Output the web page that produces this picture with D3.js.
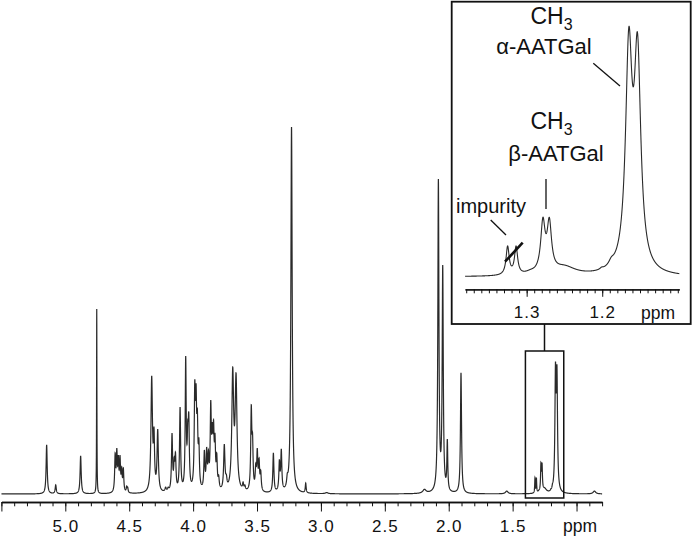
<!DOCTYPE html>
<html><head><meta charset="utf-8">
<script src="https://cdn.jsdelivr.net/npm/d3@7"></script>
<style>html,body{margin:0;padding:0;background:#fff;} svg{display:block;font-family:"Liberation Sans",Arial,Helvetica,sans-serif;}</style>
</head><body><svg id="c" width="693" height="540"></svg>
<script>
const peakPpm = [5.146,5.075,4.880,4.754,
 4.610,4.597,4.585,4.572,4.559,4.546,4.520,4.512,
 4.324,4.306,4.277,4.215,4.195,4.165,4.148,4.138,4.102,4.058,4.042,4.034,
 3.987,3.977,3.967,3.955,3.912,3.894,3.880,3.862,3.850,3.840,3.829,3.815,3.800,
 3.756,3.740,3.690,3.664,3.609,3.595,
 3.545,3.535,3.510,3.498,3.484,3.471,3.372,3.325,3.310,3.263,3.230,3.119,2.955,
 2.190,2.081,2.047,2.011,1.904,1.546,0.860,
 1.3252,1.3140,1.2785,1.2700,1.295,1.250,1.2008,1.188,1.1648,1.1533];
const peakApex = [13.4,2.5,10.4,50.4,
 11.2,12.5,10.6,10.6,7.4,7.1,2.2,1.9,
 32.2,18.3,17.7,1.9,1.9,16.6,10.1,11.4,23.7,37.6,20.2,22.3,
 31.1,30.2,23.4,15.3,12.0,12.8,12.0,25.6,19.6,20.2,16.6,11.2,5.2,
 13.6,5.4,34.6,33.0,3.3,2.5,
 24.3,16.6,8.4,12.5,9.8,6.5,11.2,9.3,12.3,5.7,100,3.0,0.4,
 1.3,85.8,62.4,15.0,33.0,0.8,0.8,
 4.47,4.47,8.6,8.6,1.1,1.73,1.44,2.9,36.0,35.2];
const peakWidth = [0.005,0.005,0.005,0.0015,
 0.0045,0.0045,0.0045,0.0045,0.0045,0.0045,0.004,0.004,
 0.007,0.005,0.006,0.006,0.006,0.005,0.005,0.005,0.005,0.0045,0.005,0.005,
 0.005,0.005,0.005,0.005,0.005,0.005,0.005,0.005,0.005,0.005,0.005,0.005,0.005,
 0.006,0.006,0.0085,0.0085,0.005,0.005,
 0.005,0.005,0.005,0.005,0.005,0.005,0.005,0.005,0.005,0.006,0.006,0.004,0.012,
 0.015,0.005,0.005,0.004,0.005,0.012,0.012,
 0.0025,0.0025,0.0035,0.0035,0.008,0.018,0.0025,0.004,0.0052,0.0052];

const mainMajorTicks = [5.5,5.0,4.5,4.0,3.5,3.0,2.5,2.0,1.5,1.0];
const mainTickLabels = ["","5.0","4.5","4.0","3.5","3.0","2.5","2.0","1.5",""];
const insetMajorTicks = [1.3,1.2];
const insetTickLabels = ["1.3","1.2"];
const unitLabel = "ppm";

// ---- line amplitudes so that the summed Lorentzians reach the observed apex heights ----
const N = peakPpm.length;
const L = (x,i) => { const u = (x - peakPpm[i]) / peakWidth[i]; return 1/(1+u*u); };
const amp = peakApex.slice();
for (let it = 0; it < 400; it++) {
  for (let i = 0; i < N; i++) {
    let m = 0;
    for (let j = 0; j < N; j++) m += amp[j]*L(peakPpm[i], j);
    amp[i] *= peakApex[i]/m;
  }
}
function spectrum(lo, hi, step){
  const xs = d3.range(lo, hi, step);
  peakPpm.forEach(p => { if (p >= lo && p <= hi) xs.push(p); });
  xs.sort((a,b)=>a-b);
  return xs.map(x => { let s = 0; for (let i = 0; i < N; i++) s += amp[i]*L(x,i); return [x, s]; });
}

const svg = d3.select("#c");
const ink = "#111";

// ---- main spectrum ----
const xMain = d3.scaleLinear().domain([5.5, 0.8]).range([1.4, 602.1]);
const yMain = d3.scaleLinear().domain([0, 100]).range([494, 127]);
const mainData = spectrum(0.8, 5.5, 0.0005);
svg.append("path").datum(mainData)
  .attr("fill","none").attr("stroke","#2a2a2a").attr("stroke-width",1.2)
  .attr("d", d3.line().x(d=>xMain(d[0])).y(d=>yMain(d[1])));

const axisY = 502;
const gMinor = svg.append("g").attr("transform",`translate(0,${axisY})`)
  .call(d3.axisBottom(xMain).tickValues(d3.range(8,56).map(i=>i/10)).tickSize(4.3).tickSizeOuter(0).tickFormat(""));
const gMajor = svg.append("g").attr("transform",`translate(0,${axisY})`)
  .call(d3.axisBottom(xMain).tickValues(mainMajorTicks).tickSize(9.5).tickSizeOuter(0)
    .tickFormat((d,i)=>mainTickLabels[i]));
[gMinor,gMajor].forEach(g=>{
  g.select(".domain").attr("stroke",ink).attr("stroke-width",1.4);
  g.selectAll(".tick line").attr("stroke",ink).attr("stroke-width",1);
});
gMajor.selectAll(".tick text").attr("y",30).attr("dy",0)
  .attr("font-size",17).attr("letter-spacing","1px").attr("fill",ink)
  .attr("font-family",'"Liberation Sans",Arial,sans-serif');
svg.append("text").attr("x",580).attr("y",532).attr("text-anchor","middle")
  .attr("font-size",17.5).attr("fill",ink).text(unitLabel);

// zoom box and connector
const boxLo = 1.40, boxHi = 1.10;
svg.append("rect").attr("x",xMain(boxLo)).attr("y",351)
  .attr("width",xMain(boxHi)-xMain(boxLo)).attr("height",147)
  .attr("fill","none").attr("stroke",ink).attr("stroke-width",1.5);
svg.append("line").attr("x1",544.5).attr("x2",544.5).attr("y1",324).attr("y2",351)
  .attr("stroke",ink).attr("stroke-width",1.5);

// ---- inset ----
svg.append("rect").attr("x",451.7).attr("y",1.7).attr("width",239).attr("height",322.3)
  .attr("fill","#fff").attr("stroke",ink).attr("stroke-width",1.8);
const xIns = d3.scaleLinear().domain([1.3816, 1.098]).range([465, 679.3]);
const yIns = d3.scaleLinear().domain([0, 100]).range([277, 277-694]);
const insData = spectrum(1.098, 1.3816, 0.0001);
svg.append("path").datum(insData)
  .attr("fill","none").attr("stroke","#2a2a2a").attr("stroke-width",1.1)
  .attr("d", d3.line().x(d=>xIns(d[0])).y(d=>yIns(d[1])));

const insAxisY = 289.3;
const iMinor = svg.append("g").attr("transform",`translate(0,${insAxisY})`)
  .call(d3.axisBottom(xIns).tickValues(d3.range(110,139).map(i=>i/100)).tickSize(4).tickSizeOuter(0).tickFormat(""));
const iMajor = svg.append("g").attr("transform",`translate(0,${insAxisY})`)
  .call(d3.axisBottom(xIns).tickValues(insetMajorTicks).tickSize(7.5).tickSizeOuter(0)
    .tickFormat((d,i)=>insetTickLabels[i]));
[iMinor,iMajor].forEach(g=>{
  g.select(".domain").attr("stroke",ink).attr("stroke-width",1.2);
  g.selectAll(".tick line").attr("stroke",ink).attr("stroke-width",1);
});
iMajor.selectAll(".tick text").attr("y",29.2).attr("dy",0)
  .attr("font-size",17).attr("letter-spacing","1px").attr("fill",ink)
  .attr("font-family",'"Liberation Sans",Arial,sans-serif');
svg.append("text").attr("x",658).attr("y",318.5).attr("text-anchor","middle")
  .attr("font-size",17.5).attr("fill",ink).text(unitLabel);

// annotations
function ch3(x,y){
  const t = svg.append("text").attr("x",x).attr("y",y).attr("text-anchor","middle")
    .attr("font-size",23).attr("fill",ink);
  t.append("tspan").text("CH");
  t.append("tspan").attr("font-size",16).attr("dy",6).text("3");
}
ch3(551.5,24);
svg.append("text").attr("x",544).attr("y",54).attr("text-anchor","middle")
  .attr("font-size",22).attr("fill",ink).text("α-AATGal");
ch3(551.5,129);
svg.append("text").attr("x",556).attr("y",161).attr("text-anchor","middle")
  .attr("font-size",22).attr("fill",ink).text("β-AATGal");
svg.append("text").attr("x",491).attr("y",213).attr("text-anchor","middle")
  .attr("font-size",20).attr("fill",ink).text("impurity");

const seg = (x1,y1,x2,y2,w)=>svg.append("line").attr("x1",x1).attr("y1",y1).attr("x2",x2).attr("y2",y2)
  .attr("stroke",ink).attr("stroke-width",w);
seg(593.3,63.3,620,86,1.3);
seg(546,179,546,209,1.3);
seg(490.7,220,506,235,1.3);
seg(505,261.7,522.7,242.7,2.6);
</script></body></html>
